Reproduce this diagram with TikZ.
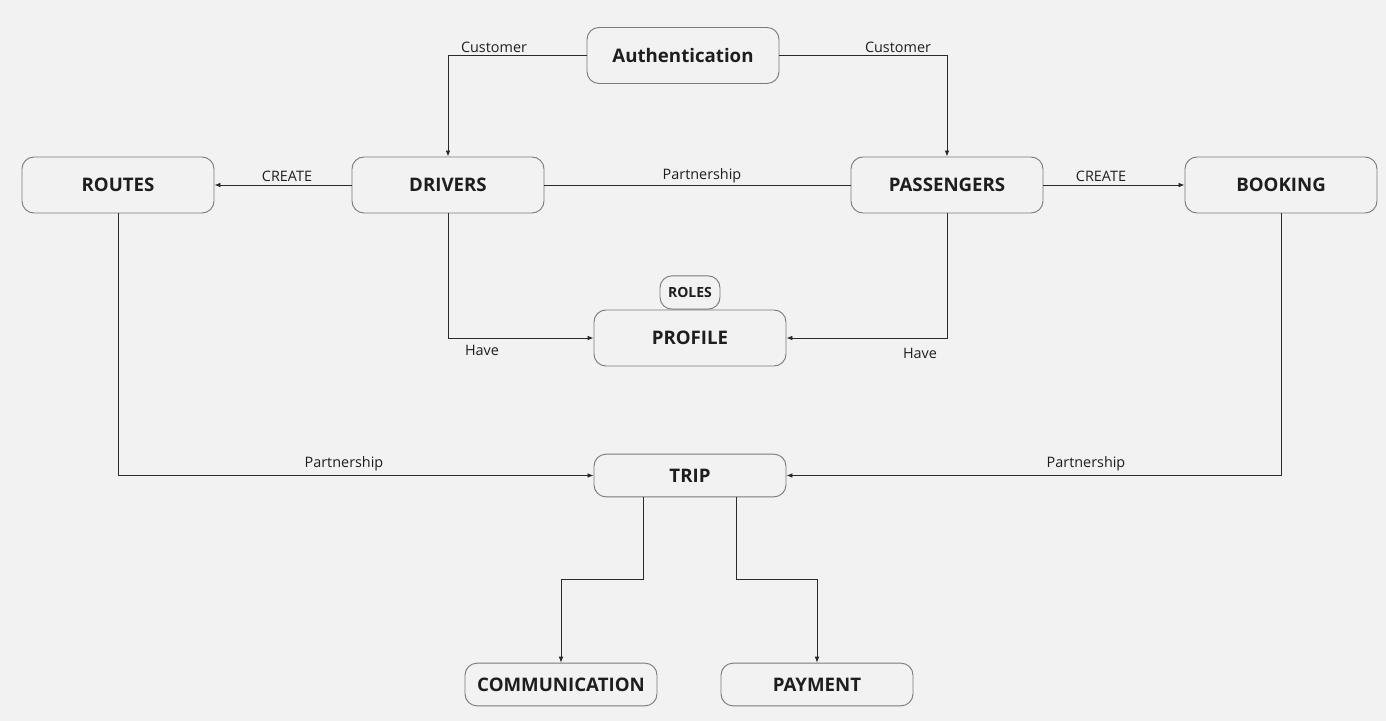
\documentclass[tikz,border=0pt]{standalone}
\usepackage{fontspec}
\setmainfont{Open Sans}
\usetikzlibrary{arrows.meta}
\definecolor{bg}{HTML}{F2F2F2}
\definecolor{edge}{HTML}{2A2A2A}
\definecolor{border}{HTML}{7A7A7A}
\definecolor{txt}{HTML}{1E1E1E}
\begin{document}
\begin{tikzpicture}[x=0.75pt,y=-0.75pt,
  box/.style={draw=border,fill=bg,rounded corners=9pt,line width=0.7pt,minimum width=144pt,minimum height=42pt,inner sep=0pt,font=\fontsize{14}{16}\selectfont\bfseries,text=txt},
  tripbox/.style={box,minimum height=32pt},
  smallbox/.style={draw=border,fill=bg,rounded corners=9pt,line width=0.7pt,minimum width=45pt,minimum height=25pt,inner sep=0pt,font=\fontsize{10.5}{12}\selectfont\bfseries,text=txt},
  conn/.style={draw=edge,line width=0.6pt},
  arr/.style={conn,-{Latex[length=4.5pt,width=3.5pt]}},
  lab/.style={font=\fontsize{10.8}{12}\selectfont,text=txt,inner sep=1pt}]
\fill[bg] (0,0) rectangle (1386,721);
\useasboundingbox (0,0) rectangle (1386,721);
\node[box] (auth) at (683,55.5) {Authentication};
\node[box] (routes) at (118,185) {ROUTES};
\node[box] (drivers) at (448,185) {DRIVERS};
\node[box] (pass) at (947,185) {PASSENGERS};
\node[box] (booking) at (1281,185) {BOOKING};
\node[box] (profile) at (690,338) {PROFILE};
\node[smallbox] (roles) at (690,292.5) {ROLES};
\node[tripbox] (trip) at (690,475.5) {TRIP};
\node[tripbox] (comm) at (561,684.5) {COMMUNICATION};
\node[tripbox] (pay) at (817,684.5) {PAYMENT};
% connectors
\draw[arr] (auth.west) -| (drivers.north);
\node[lab] at (494,47) {Customer};
\draw[arr] (auth.east) -| (pass.north);
\node[lab] at (898,47) {Customer};
\draw[arr] (drivers.west) -- (routes.east);
\node[lab] at (287,176) {CREATE};
\draw[conn] (drivers.east) -- (pass.west);
\node[lab] at (702,176) {Partnership};
\draw[arr] (pass.east) -- (booking.west);
\node[lab] at (1101,176) {CREATE};
\draw[arr] (drivers.south) |- (profile.west);
\node[lab] at (482,350) {Have};
\draw[arr] (pass.south) |- (profile.east);
\node[lab] at (920,353) {Have};
\draw[arr] (routes.south) |- (trip.west);
\node[lab] at (344,464) {Partnership};
\draw[arr] (booking.south) |- (trip.east);
\node[lab] at (1086,464) {Partnership};
\coordinate (t1) at (643,579);
\coordinate (t2) at (736,579);
\draw[arr] (trip.south -| t1) -- (t1) -| (comm.north);
\draw[arr] (trip.south -| t2) -- (t2) -| (pay.north);
\end{tikzpicture}
\end{document}
